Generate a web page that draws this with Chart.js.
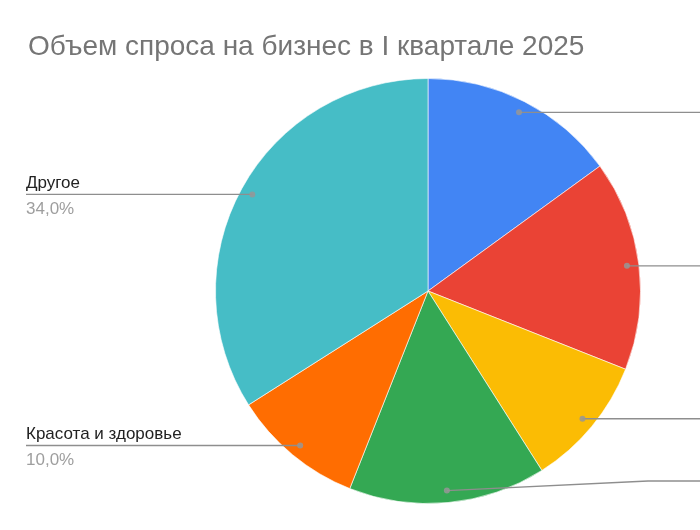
<!DOCTYPE html>
<html>
<head>
<meta charset="utf-8">
<script src="https://cdn.jsdelivr.net/npm/chart.js@4.4.1/dist/chart.umd.min.js"></script>
<style>
  html, body { margin: 0; background: #fff; }
  #wrap { width: 700px; height: 530px; }
</style>
</head>
<body>
<div id="wrap"><canvas id="pie" width="700" height="530"></canvas></div>
<script>
// data; the four right-hand labels are cut off in the original
const chartTitle = 'Объем спроса на бизнес в I квартале 2025';
const categories = ['Категория 1', 'Категория 2', 'Категория 3', 'Категория 4', 'Красота и здоровье', 'Другое'];
const shares = [15, 16, 10, 15, 10, 34];
const sliceColors = ['#4285f4', '#ea4335', '#fbbc04', '#34a853', '#ff6d01', '#46bdc6'];

const fmtPct = v => v.toFixed(1).replace('.', ',') + '%';
const FONT = '"Liberation Sans", Arial, sans-serif';

// title + leader lines + labels, drawn like the sheets export
const calloutPlugin = {
  id: 'callouts',
  afterDraw(chart) {
    const { ctx, width, height } = chart;
    const meta = chart.getDatasetMeta(0);

    ctx.save();
    ctx.font = '28px ' + FONT;
    ctx.fillStyle = '#757575';
    ctx.textBaseline = 'alphabetic';
    ctx.fillText(chartTitle, 28, 55);

    meta.data.forEach((arc, i) => {
      const mid = (arc.startAngle + arc.endAngle) / 2;
      const r = arc.outerRadius - 12;
      const dx = arc.x + Math.cos(mid) * r;
      const dy = arc.y + Math.sin(mid) * r;

      ctx.strokeStyle = '#8e8e8e';
      ctx.lineWidth = 1.4;
      ctx.beginPath();
      if (Math.cos(mid) < 0) {
        ctx.moveTo(26, dy);
        ctx.lineTo(dx, dy);
        ctx.stroke();
        ctx.font = '17px ' + FONT;
        ctx.fillStyle = '#222';
        ctx.fillText(categories[i], 26, dy - 6);
        ctx.fillStyle = '#9e9e9e';
        ctx.fillText(fmtPct(shares[i]), 26, dy + 20);
      } else {
        // right column: labels sit past the cropped edge
        const ly = Math.min(dy, height - 49);
        ctx.moveTo(dx, dy);
        if (ly !== dy) ctx.lineTo(width - 52, ly);
        ctx.lineTo(width, ly);
        ctx.stroke();
      }

      ctx.fillStyle = 'rgba(150,150,150,0.85)';
      ctx.beginPath();
      ctx.arc(dx, dy, 3, 0, Math.PI * 2);
      ctx.fill();
    });
    ctx.restore();
  }
};

new Chart(document.getElementById('pie'), {
  type: 'pie',
  data: {
    labels: categories,
    datasets: [{
      data: shares,
      backgroundColor: sliceColors,
      borderColor: 'rgba(255,255,255,0.6)',
      borderWidth: 1,
    }]
  },
  options: {
    responsive: false,
    animation: false,
    layout: { padding: { top: 78, left: 215, right: 59, bottom: 26 } },
    plugins: {
      legend: { display: false },
      tooltip: { enabled: false },
      title: { display: false },
    }
  },
  plugins: [calloutPlugin]
});
</script>
</body>
</html>
